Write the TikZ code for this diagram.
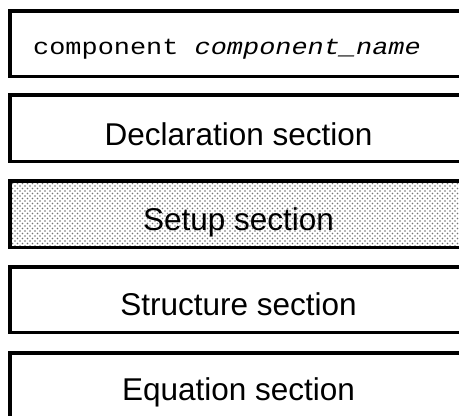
\documentclass[tikz,border=0pt]{standalone}
\usepackage{fontspec}
\setmainfont{Liberation Sans}
\newfontfamily\monofont{Liberation Mono}
\usetikzlibrary{patterns.meta}
\tikzset{
  secbox/.style={draw=black, line width=3.5pt, inner sep=0pt,
    minimum width=457.5pt, minimum height=#1, fill=white},
  secbox/.default=66.5pt,
  dotted fill/.style={
    preaction={pattern={Dots[distance=5pt, radius=0.8pt]}, pattern color=black!55},
    pattern={Dots[distance=5pt, radius=0.8pt, xshift=2.5pt, yshift=2.5pt]},
    pattern color=black!55},
  seclabel/.style={anchor=base, inner sep=0pt, text=black,
    font=\fontsize{31.5}{36}\selectfont},
  codelabel/.style={anchor=base west, inner sep=0pt, text=black,
    font=\monofont\fontsize{23}{26}\selectfont}
}
\begin{document}
\begin{tikzpicture}[x=1pt, y=-1pt]
  \clip (0,0) rectangle (459,416);
  \fill[white] (0,0) rectangle (459,416);
  % boxes
  \node[secbox=65.5pt] (b1) at (238.5,43.5) {};
  \node[secbox] (b2) at (238.5,128) {};
  \node[secbox, dotted fill] (b3) at (238.5,214) {};
  \node[secbox=65.5pt] (b4) at (238.5,299.5) {};
  \node[secbox=100pt] (b5) at (238.5,402.75) {};
  % labels
  \node[codelabel] (l1) at (33,54) {\scalebox{1.17}[1]{component \textit{component\_name}}};
  \node[seclabel] (l2) at (238.5,145) {Declaration section};
  \node[seclabel] (l3) at (238.5,230) {Setup section};
  \node[seclabel] (l4) at (238.5,315) {Structure section};
  \node[seclabel] (l5) at (238.5,400) {Equation section};
\end{tikzpicture}
\end{document}
